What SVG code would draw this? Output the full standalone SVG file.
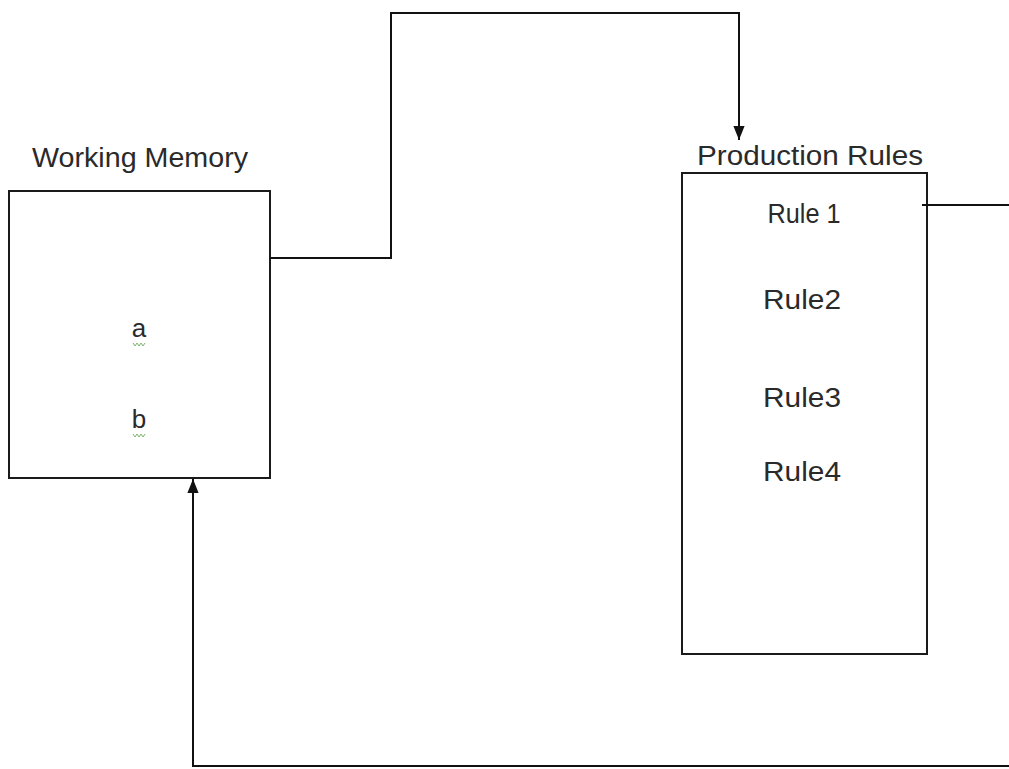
<svg xmlns="http://www.w3.org/2000/svg" width="1009" height="769" viewBox="0 0 1009 769">
<style>
.box{fill:#fff;stroke:#1a1a1a;stroke-width:2}
.wire{fill:none;stroke:#111;stroke-width:2}
.t{font-family:"Liberation Sans",Arial,sans-serif;fill:#2a2a2a}
.sq{fill:none;stroke:#7cb46a;stroke-width:1}
</style>
<defs>
<marker id="ah" viewBox="0 0 10 10" refX="10" refY="5" markerWidth="7" markerHeight="7" orient="auto" markerUnits="strokeWidth">
<path d="M0,1 L10,5 L0,9 z" fill="#111"/>
</marker>
</defs>
<rect width="1009" height="769" fill="#fff"/>
<g id="working-memory">
<text class="t" x="140" y="167" font-size="27" text-anchor="middle" textLength="216" lengthAdjust="spacingAndGlyphs">Working  Memory</text>
<rect class="box" x="9" y="191" width="261" height="287"/>
<text class="t" x="139" y="337" font-size="26" text-anchor="middle">a</text>
<path class="sq" d="M133,343 l2,3 l2,-3 l2,3 l2,-3 l2,3 l2,-3"/>
<text class="t" x="139" y="428" font-size="26" text-anchor="middle">b</text>
<path class="sq" d="M133,434 l2,3 l2,-3 l2,3 l2,-3 l2,3 l2,-3"/>
</g>
<g id="production-rules">
<text class="t" x="810" y="165" font-size="27" text-anchor="middle" textLength="226" lengthAdjust="spacingAndGlyphs">Production  Rules</text>
<rect class="box" x="682" y="173" width="245" height="481"/>
<text class="t" x="804" y="223" font-size="27" text-anchor="middle" textLength="73" lengthAdjust="spacingAndGlyphs">Rule 1</text>
<text class="t" x="802" y="309" font-size="27" text-anchor="middle" textLength="78" lengthAdjust="spacingAndGlyphs">Rule2</text>
<text class="t" x="802" y="407" font-size="27" text-anchor="middle" textLength="78" lengthAdjust="spacingAndGlyphs">Rule3</text>
<text class="t" x="802" y="481" font-size="27" text-anchor="middle" textLength="78" lengthAdjust="spacingAndGlyphs">Rule4</text>
</g>
<g id="connectors">
<path class="wire" d="M270,258 H391 V13 H739 V140" marker-end="url(#ah)"/>
<path class="wire" d="M922,205 H1009"/>
<path class="wire" d="M1009,766 H193 V479" marker-end="url(#ah)"/>
</g>
</svg>
